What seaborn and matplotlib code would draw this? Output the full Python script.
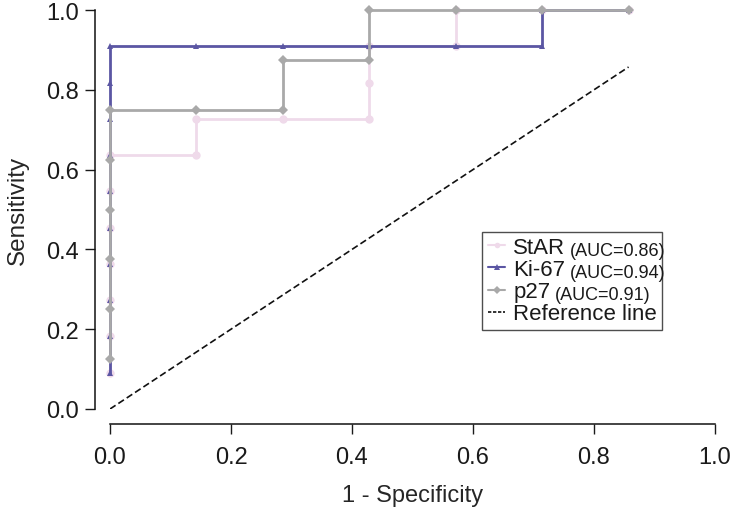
import numpy as np
import pandas as pd
import matplotlib
matplotlib.use("Agg")
import matplotlib.pyplot as plt
import seaborn as sns

# ===== ROC data (1 - specificity, sensitivity) =====
star_fpr = [0, 0, 0, 0, 0, 0, 0, 1/7, 1/7, 2/7, 3/7, 3/7, 3/7, 4/7, 4/7, 5/7, 6/7]
star_tpr = [1/11, 2/11, 3/11, 4/11, 5/11, 6/11, 7/11, 7/11, 8/11, 8/11, 8/11,
            9/11, 10/11, 10/11, 1, 1, 1]

ki67_fpr = [0, 0, 0, 0, 0, 0, 0, 0, 0, 0, 1/7, 2/7, 3/7, 4/7, 5/7, 5/7, 6/7]
ki67_tpr = [1/11, 2/11, 3/11, 4/11, 5/11, 6/11, 7/11, 8/11, 9/11, 10/11,
            10/11, 10/11, 10/11, 10/11, 10/11, 1, 1]

p27_fpr = [0, 0, 0, 0, 0, 0, 1/7, 2/7, 2/7, 3/7, 3/7, 4/7, 5/7, 6/7]
p27_tpr = [1/8, 2/8, 3/8, 4/8, 5/8, 6/8, 6/8, 6/8, 7/8, 7/8, 1, 1, 1, 1]

ref_x = [0, 6/7]
ref_y = [0, 6/7]

names = ["StAR", "Ki-67", "p27"]
aucs = ["(AUC=0.86)", "(AUC=0.94)", "(AUC=0.91)"]
colors = ["#efdaea", "#5b56a3", "#a9a9a9"]
markers = ["o", "^", "D"]
ticks = [0.0, 0.2, 0.4, 0.6, 0.8, 1.0]

sns.set_style("ticks")
plt.rcParams["font.family"] = ["Liberation Sans", "DejaVu Sans"]
plt.rcParams["text.color"] = "#1a1a1a"

fig = plt.figure(figsize=(7.35, 5.1), dpi=100)
ax = fig.add_axes([110/735, 100/510, 605/735, 399/510])

curves = [(star_fpr, star_tpr), (ki67_fpr, ki67_tpr), (p27_fpr, p27_tpr)]
handles = []
for (fx, ty), name, col, mk in zip(curves, names, colors, markers):
    df = pd.DataFrame({"fpr": fx, "tpr": ty})
    sns.lineplot(data=df, x="fpr", y="tpr", sort=False, estimator=None,
                 color=col, lw=2, marker=mk, markersize=5 if mk != "o" else 6,
                 markeredgewidth=0, ax=ax, clip_on=False)
    h, = ax.plot([], [], color=col, lw=1.5, marker=mk, markersize=4,
                 markeredgewidth=0)
    handles.append(h)

ref = pd.DataFrame({"x": ref_x, "y": ref_y})
sns.lineplot(data=ref, x="x", y="y", color="#111111", lw=1.2,
             linestyle=(0, (4, 2)), ax=ax)
h, = ax.plot([], [], color="#111111", lw=1.2, linestyle=(0, (2, 1)))
handles.append(h)

ax.set_xlim(0, 1)
ax.set_ylim(0, 1)
ax.set_xticks(ticks)
ax.set_yticks(ticks)
ax.set_xticklabels([f"{v:.1f}" for v in ticks])
ax.set_yticklabels([f"{v:.1f}" for v in ticks])
ax.tick_params(labelsize=17, length=7, width=1, colors="#1a1a1a")
ax.tick_params(axis="x", pad=9)
ax.tick_params(axis="y", pad=5)
ax.set_xlabel("1 - Specificity", fontsize=17, labelpad=12)
ax.set_ylabel("Sensitivity", fontsize=17.5, labelpad=12)
sns.despine(ax=ax, offset=10.5)
for s in ["left", "bottom"]:
    ax.spines[s].set_linewidth(1.1)
    ax.spines[s].set_color("#111111")

leg = ax.legend(handles, names + ["Reference line"], loc="lower left",
                bbox_to_anchor=(0.615, 0.198), fontsize=16, handlelength=0.8,
                handletextpad=0.35, labelspacing=0.05, borderpad=0.25,
                borderaxespad=0, fancybox=False, frameon=True,
                edgecolor="#222222")
leg.get_frame().set_linewidth(1)

# smaller AUC annotations after the legend names
fig.canvas.draw()
right = 0
for t, a in zip(leg.get_texts()[:3], aucs):
    bb = t.get_window_extent()
    x, y = fig.transFigure.inverted().transform((bb.x1 + 5, bb.y0 + 3))
    txt = fig.text(x, y, a, fontsize=13, va="baseline", ha="left")
    fig.canvas.draw()
    right = max(right, txt.get_window_extent().x1)

# widen legend frame to hold the annotations
fb = leg.get_frame()
fb.set_width(max(fb.get_width(), right + 6 - fb.get_x()))

fig.savefig("out.png", dpi=100)
